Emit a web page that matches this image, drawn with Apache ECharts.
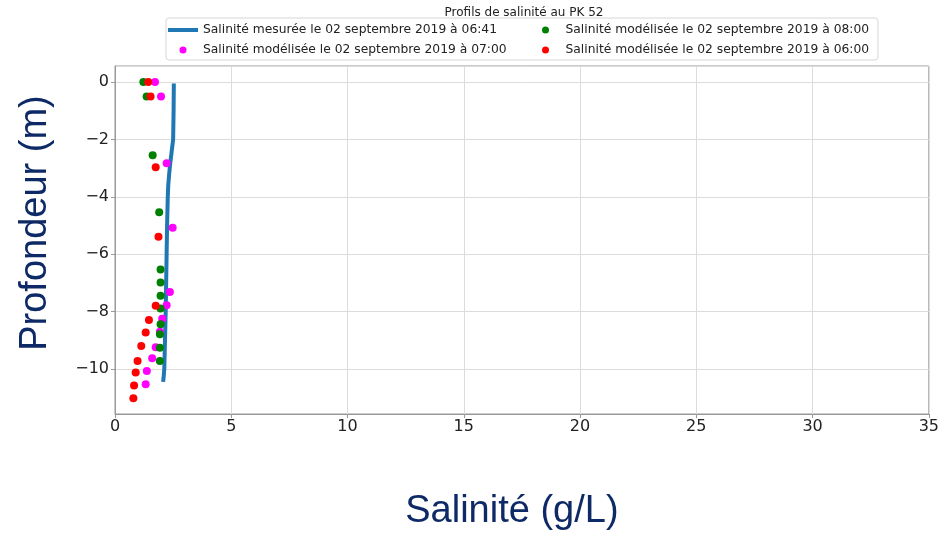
<!DOCTYPE html>
<html>
<head>
<meta charset="utf-8">
<script src="https://cdn.jsdelivr.net/npm/echarts@6/dist/echarts.min.js"></script>
<style>
	html, body { margin: 0; padding: 0; background: #fff; }
	#chart { width: 942px; height: 544px; }
</style>
</head>
<body>
<div id="chart"></div>
<script>
// measured profile (06:41)
const measDepth = [-0.05, -1, -2, -2.4, -2.8, -3.2, -3.6, -4, -5, -6, -7, -8, -9, -10, -10.3, -10.45];
const measSal = [2.53, 2.52, 2.50, 2.44, 2.38, 2.33, 2.29, 2.27, 2.24, 2.22, 2.20, 2.18, 2.15, 2.12, 2.09, 2.07];

// modelled profiles
const mod07Depth = [0, -0.5, -2.83, -5.08, -7.32, -7.78, -8.25, -8.70, -9.24, -9.63, -10.07, -10.53];
const mod07Sal = [1.72, 1.98, 2.22, 2.48, 2.36, 2.22, 2.03, 1.93, 1.75, 1.60, 1.37, 1.32];

const mod08Depth = [0, -0.5, -2.55, -4.54, -6.53, -6.99, -7.45, -7.89, -8.44, -8.79, -9.26, -9.72];
const mod08Sal = [1.22, 1.36, 1.62, 1.90, 1.96, 1.96, 1.96, 1.96, 1.96, 1.93, 1.93, 1.93];

const mod06Depth = [0, -0.5, -2.97, -5.39, -7.8, -8.29, -8.73, -9.2, -9.72, -10.12, -10.58, -11.02];
const mod06Sal = [1.43, 1.53, 1.75, 1.87, 1.75, 1.46, 1.32, 1.13, 0.97, 0.89, 0.82, 0.79];

const names = [
	'Salinité mesurée le 02 septembre 2019 à 06:41',
	'Salinité modélisée le 02 septembre 2019 à 07:00',
	'Salinité modélisée le 02 septembre 2019 à 08:00',
	'Salinité modélisée le 02 septembre 2019 à 06:00',
];

const pairs = (xs, ys) => xs.map((x, i) => [x, ys[i]]);
const minus = v => (v < 0 ? '\u2212' + Math.abs(v) : String(v));

const navy = '#0e2a66';
const legendText = {fontFamily: 'DejaVu Sans', fontSize: 12.3, color: '#222'};

const chart = echarts.init(document.getElementById('chart'), null, {renderer: 'canvas'});

chart.setOption({
	animation: false,
	title: {
		text: 'Profils de salinité au PK 52',
		left: 524, top: 2,
		textAlign: 'center',
		padding: [5, 0],
		textStyle: {fontFamily: 'DejaVu Sans', fontSize: 12, fontWeight: 'normal', color: '#222'},
	},
	graphic: [{
		type: 'rect',
		shape: {x: 166, y: 18, width: 712, height: 42, r: 3},
		style: {fill: '#fff', stroke: '#d6d6d6', lineWidth: 1},
		z: 0,
	}],
	legend: [
		{
			data: [{name: names[0], icon: 'path://M0,0 L30,0 L30,4 L0,4 Z'}, names[1]],
			orient: 'vertical',
			left: 168, top: 24,
			padding: 0,
			itemGap: 8,
			itemWidth: 30, itemHeight: 7,
			itemTextGap: 7,
			textStyle: legendText,
		},
		{
			data: [names[2], names[3]],
			orient: 'vertical',
			left: 542, top: 24,
			padding: 0,
			itemGap: 8,
			itemWidth: 30, itemHeight: 7,
			itemTextGap: 7,
			textStyle: legendText,
		},
	],
	grid: {
		left: 115, right: 12, top: 66, bottom: 130,
		show: true,
		borderColor: '#999',
		borderWidth: 1,
		containLabel: false,
	},
	xAxis: {
		type: 'value',
		min: 0, max: 35, interval: 5,
		name: 'Salinité (g/L)',
		nameLocation: 'middle',
		nameGap: 79,
		nameTextStyle: {fontFamily: 'Liberation Sans', fontSize: 38, color: navy, padding: [0, 20, 0, 0]},
		axisLine: {show: true, onZero: false, lineStyle: {color: '#999'}},
		axisTick: {show: true, length: 4, lineStyle: {color: '#999'}},
		axisLabel: {fontFamily: 'DejaVu Sans', fontSize: 16, color: '#222', margin: 5, formatter: minus},
		splitLine: {show: true, lineStyle: {color: '#dcdcdc'}},
	},
	yAxis: {
		type: 'value',
		min: -11.57, max: 0.56,
		name: 'Profondeur (m)',
		nameLocation: 'middle',
		nameRotate: 90,
		nameGap: 60,
		nameTextStyle: {fontFamily: 'Liberation Sans', fontSize: 38, color: navy, padding: [0, 0, 0, 34]},
		axisLine: {show: true, onZero: false, lineStyle: {color: '#999'}},
		axisTick: {show: true, length: 4, lineStyle: {color: '#999'}},
		axisLabel: {
			fontFamily: 'DejaVu Sans', fontSize: 16, color: '#222', margin: 6,
			showMinLabel: false, showMaxLabel: false,
			formatter: minus,
		},
		splitLine: {show: true, lineStyle: {color: '#dcdcdc'}},
	},
	series: [
		{
			name: names[0],
			type: 'line',
			data: pairs(measSal, measDepth),
			symbol: 'none',
			lineStyle: {color: '#1f77b4', width: 4},
			itemStyle: {color: '#1f77b4'},
			z: 2,
		},
		{
			name: names[1],
			type: 'scatter',
			data: pairs(mod07Sal, mod07Depth),
			symbolSize: 8,
			itemStyle: {color: '#ff00ff', opacity: 1},
			z: 3,
		},
		{
			name: names[2],
			type: 'scatter',
			data: pairs(mod08Sal, mod08Depth),
			symbolSize: 8,
			itemStyle: {color: '#008000', opacity: 1},
			z: 3,
		},
		{
			name: names[3],
			type: 'scatter',
			data: pairs(mod06Sal, mod06Depth),
			symbolSize: 8,
			itemStyle: {color: '#ff0000', opacity: 1},
			z: 3,
		},
	],
});
</script>
</body>
</html>
